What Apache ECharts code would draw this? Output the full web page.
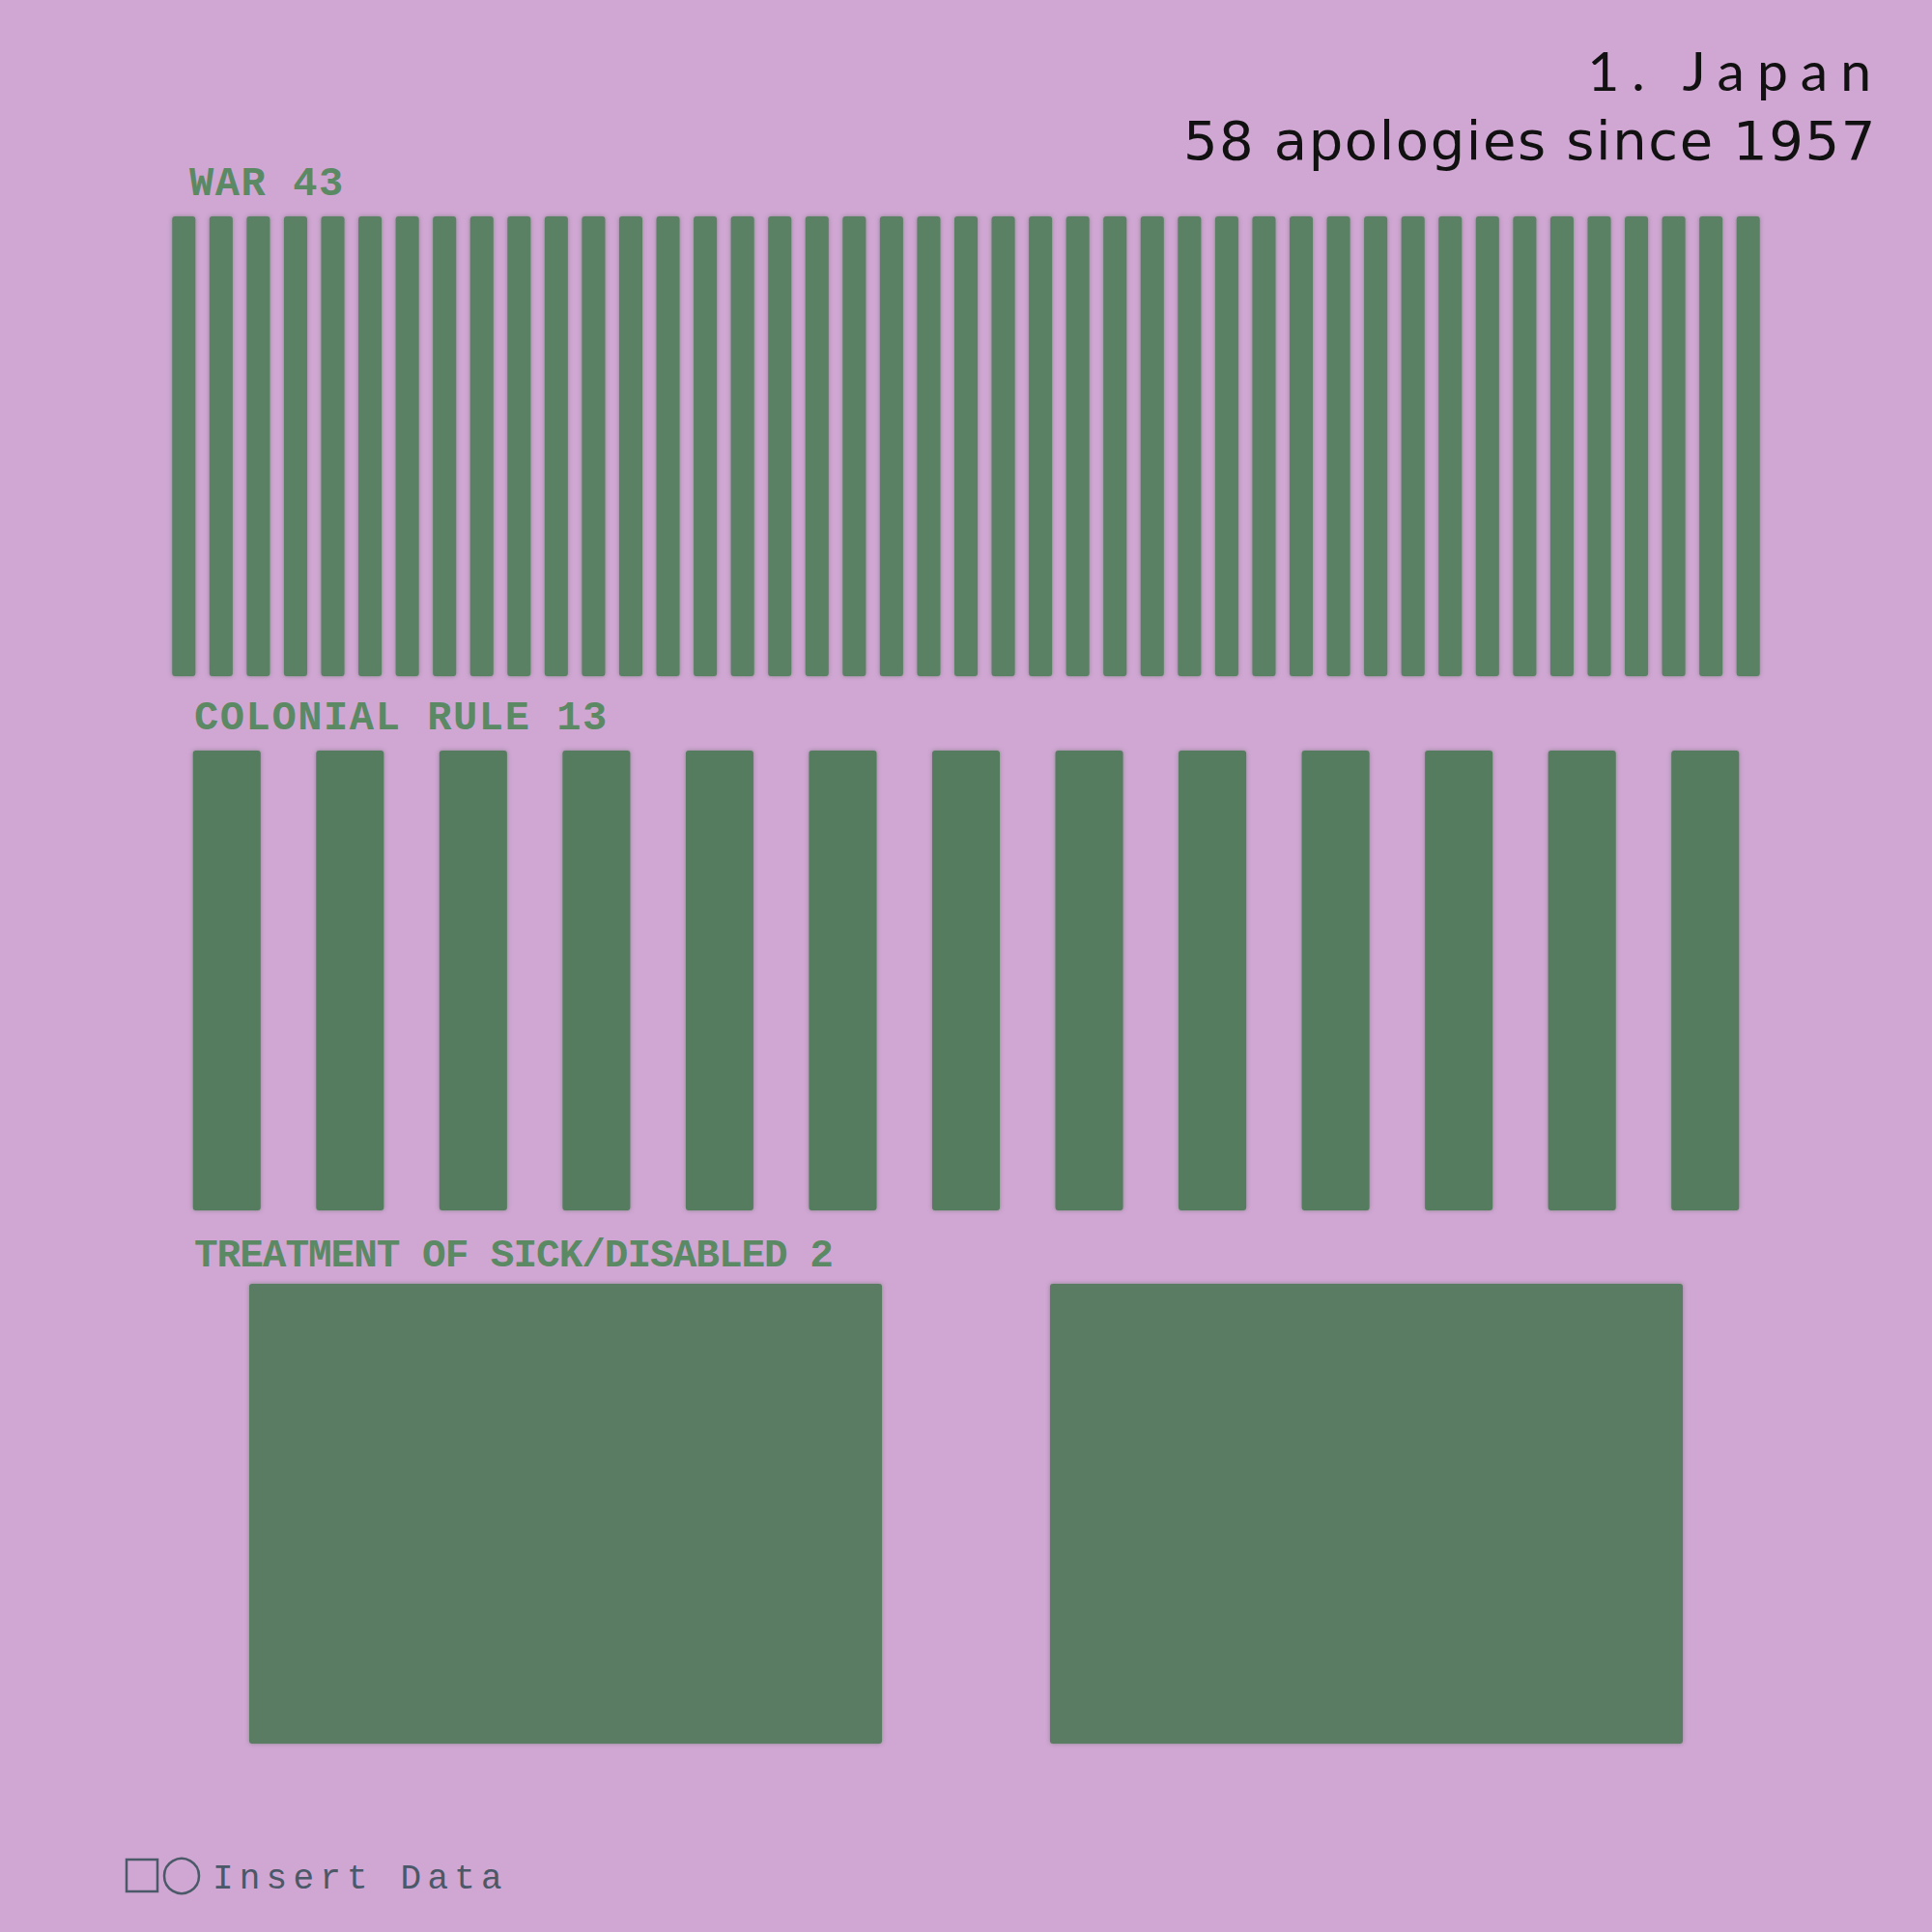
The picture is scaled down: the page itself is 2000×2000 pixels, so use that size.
<!DOCTYPE html>
<html><head><meta charset="utf-8">
<style>
html,body{margin:0;padding:0;background:#d0a6d2;}
#c{width:2000px;height:2000px;}
#c text[style*="57px"]{letter-spacing:13px;}
#c text[style*="56px"]{letter-spacing:1.6px;}
#c text[style*="42px"]{letter-spacing:1.6px;}
#c text[style*="41px"]{letter-spacing:-1.0px;}
#c text[style*="36px"]{letter-spacing:6.2px;}
</style>
<script src="https://cdn.jsdelivr.net/npm/echarts@6/dist/echarts.min.js"></script>
</head><body><div id="c"></div><script>
// ---- data ----
const titleLine1 = '1. Japan';
const titleLine2 = '58 apologies since 1957';
const groupNames = ['WAR', 'COLONIAL RULE', 'TREATMENT OF SICK/DISABLED'];
const groupCounts = [43, 13, 2];
// one bar per apology
const warApologies = [
  1,1,1,1,1,1,1,1,1,1,
  1,1,1,1,1,1,1,1,1,1,
  1,1,1,1,1,1,1,1,1,1,
  1,1,1,1,1,1,1,1,1,1,
  1,1,1
];
const colonialApologies = [
  1,1,1,1,1,1,1,1,1,1,
  1,1,1
];
const treatmentApologies = [1,1];
const footerText = 'Insert Data';

// ---- chart ----
const cats = arr => arr.map((v, i) => String(i + 1));
const bg = '#d0a6d2';
const labelColor = '#5a8964';
const gridLeft = 171, gridWidth = 1658, rowH = 476;
const rowTops = [224, 777, 1329];

const chart = echarts.init(document.getElementById('c'), null, {renderer: 'svg', width: 2000, height: 2000});

function barStyle(color) {
  return {color: color, borderRadius: 3, shadowBlur: 4, shadowColor: 'rgba(78,108,86,0.55)'};
}

const option = {
  animation: false,
  backgroundColor: bg,
  grid: rowTops.map(t => ({left: gridLeft, width: gridWidth, top: t, height: rowH})),
  xAxis: [warApologies, colonialApologies, treatmentApologies].map((arr, i) => ({
    type: 'category', gridIndex: i, data: cats(arr), show: false, boundaryGap: true
  })),
  yAxis: [0, 1, 2].map(i => ({type: 'value', gridIndex: i, min: 0, max: 1, show: false})),
  series: [
    {type: 'bar', xAxisIndex: 0, yAxisIndex: 0, data: warApologies, barWidth: 24, itemStyle: barStyle('#5a8163')},
    {type: 'bar', xAxisIndex: 1, yAxisIndex: 1, data: colonialApologies, barWidth: 70, itemStyle: barStyle('#557c5e')},
    {type: 'bar', xAxisIndex: 2, yAxisIndex: 2, data: treatmentApologies, barWidth: 655, itemStyle: barStyle('#5a7b62')}
  ],
  graphic: [
    {type: 'text', x: 1950, y: 72, style: {text: titleLine1, fill: '#111', fontFamily: 'Lato', fontSize: 57, align: 'right', verticalAlign: 'middle'}},
    {type: 'text', x: 1943, y: 145, style: {text: titleLine2, fill: '#111', fontFamily: 'DejaVu Sans', fontSize: 56, align: 'right', verticalAlign: 'middle'}},
    {type: 'text', x: 196, y: 190.5, style: {text: groupNames[0] + ' ' + groupCounts[0], fill: labelColor, fontFamily: 'Liberation Mono', fontWeight: 'bold', fontSize: 42, align: 'left', verticalAlign: 'middle'}},
    {type: 'text', x: 201, y: 744, style: {text: groupNames[1] + ' ' + groupCounts[1], fill: labelColor, fontFamily: 'Liberation Mono', fontWeight: 'bold', fontSize: 42, align: 'left', verticalAlign: 'middle'}},
    {type: 'text', x: 201, y: 1300, style: {text: groupNames[2] + ' ' + groupCounts[2], fill: labelColor, fontFamily: 'Liberation Mono', fontWeight: 'bold', fontSize: 41, align: 'left', verticalAlign: 'middle'}},
    {type: 'rect', shape: {x: 131, y: 1925, width: 32, height: 33}, style: {fill: 'none', stroke: '#4a5a68', lineWidth: 2.5}},
    {type: 'circle', shape: {cx: 188, cy: 1942, r: 18}, style: {fill: 'none', stroke: '#4a5a68', lineWidth: 2.5}},
    {type: 'text', x: 220, y: 1945, style: {text: footerText, fill: '#4a5868', fontFamily: 'Liberation Mono', fontSize: 36, align: 'left', verticalAlign: 'middle'}}
  ]
};
chart.setOption(option);
</script></body></html>
